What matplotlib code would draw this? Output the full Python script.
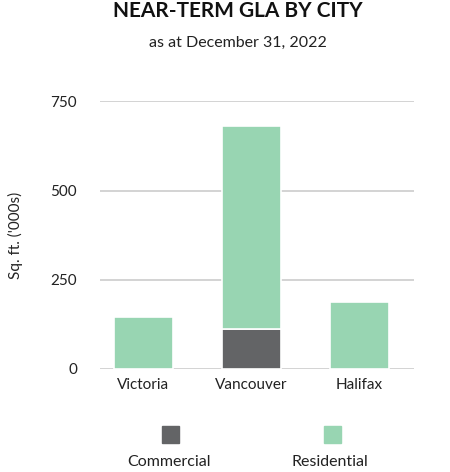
import matplotlib
matplotlib.use("Agg")
import matplotlib.pyplot as plt
from matplotlib.patches import Rectangle
import numpy as np

cities = ["Victoria", "Vancouver", "Halifax"]
commercial = [0, 110, 0]
residential = [145, 572, 188]
series_names = ["Commercial", "Residential"]
colors = ["#636466", "#98d5b2"]
yticks = [0, 250, 500, 750]

plt.rcParams['font.family'] = ['Lato', 'DejaVu Sans']

fig = plt.figure(figsize=(4.5, 4.72), dpi=100)
ax = fig.add_axes([0.222, 0.219, 0.698, 0.566])

x = np.arange(len(cities))
w = 0.545
ax.bar(x, commercial, w, color=colors[0], edgecolor="white", linewidth=1.2, zorder=3)
ax.bar(x, residential, w, bottom=commercial, color=colors[1], edgecolor="white",
       linewidth=1.2, zorder=3)

ax.set_xlim(-0.4, 2.505)
ax.set_ylim(0, 750)
ax.set_yticks(yticks)
ax.set_yticklabels([str(t) for t in yticks], fontsize=11, color="#222222")
ax.set_xticks(x)
ax.set_xticklabels(cities, fontsize=11, color="#222222")
ax.tick_params(axis="both", length=0, pad=7)
ax.tick_params(axis="y", pad=16.5)
ax.grid(axis="y", color="#cccccc", linewidth=1.2, zorder=0)
for s in ax.spines.values():
    s.set_visible(False)
ax.set_ylabel("Sq. ft. ('000s)", fontsize=11, color="#222222")
ax.yaxis.set_label_coords(-0.245, 0.5)

fig.text(0.528, 0.977, "NEAR-TERM GLA BY CITY", ha="center", va="center",
         fontsize=15, fontweight="bold", color="#111111")
fig.text(0.528, 0.910, "as at December 31, 2022", ha="center", va="center",
         fontsize=11.5, color="#222222")

# legend
leg_x = [170.5 / 450, 332 / 450]
sq = 17
for name, col, lx in zip(series_names, colors, leg_x):
    fig.patches.append(Rectangle((lx - sq / 2 / 450, 1 - 443 / 472), sq / 450, sq / 472,
                                 transform=fig.transFigure, color=col))
    fig.text(lx - 2 / 450, 1 - 462 / 472, name, ha="center", va="center",
             fontsize=11.5, color="#222222")

fig.savefig("out.png", dpi=100)
